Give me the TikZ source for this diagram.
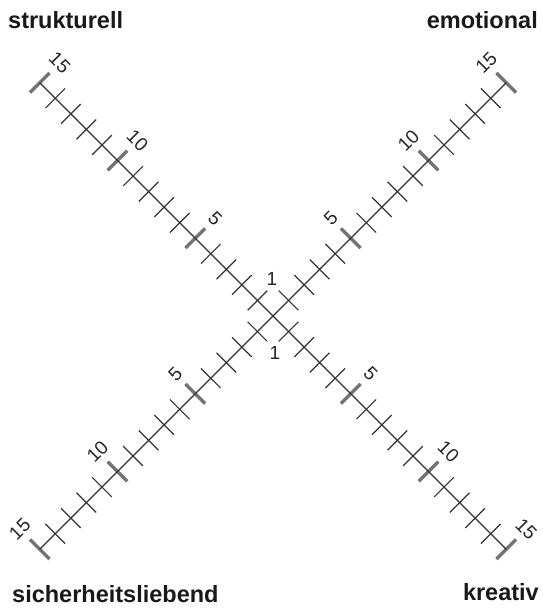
\documentclass[tikz,border=0pt]{standalone}
\usepackage{fontspec}
\setmainfont{Liberation Sans}
\usetikzlibrary{calc}
\begin{document}
\begin{tikzpicture}[x=1pt,y=-1pt,
  axisline/.style={line width=1.3pt, draw=black!80},
  minortick/.style={line width=1.2pt, draw=black!80},
  majortick/.style={line width=3.4pt, draw=black!55},
  title/.style={font=\fontsize{23.5}{28}\selectfont\bfseries, text=black!90, inner sep=0pt},
  num/.style={font=\fontsize{19}{22}\selectfont, inner sep=0pt, text=black!85}]
\useasboundingbox (0,0) rectangle (543,610);
\coordinate (C) at (273,316);
\def\st{15.55}
\def\hl{9.8}
% major ticks first (under the axis lines)
\foreach \name/\dx/\dy in {tl/-1/-1, tr/1/-1, bl/-1/1, br/1/1} {
  \foreach \k in {5,10,15} {
    \coordinate (\name-p\k) at ({273+\k*\st*(\dx)}, {316+\k*\st*(\dy)});
    \draw[majortick] ($(\name-p\k)+({\hl*(\dx)},{-\hl*(\dy)})$) -- ($(\name-p\k)+({-\hl*(\dx)},{\hl*(\dy)})$);
  }
}
% axis lines
\coordinate (tl-end) at ({273-15*\st}, {316-15*\st});
\coordinate (br-end) at ({273+15*\st}, {316+15*\st});
\coordinate (tr-end) at ({273+15*\st}, {316-15*\st});
\coordinate (bl-end) at ({273-15*\st}, {316+15*\st});
\draw[axisline] (tl-end) -- (C) -- (br-end);
\draw[axisline] (tr-end) -- (C) -- (bl-end);
% minor ticks and labels
\foreach \name/\dx/\dy/\rot in {tl/-1/-1/-45, tr/1/-1/45, bl/-1/1/45, br/1/1/-45} {
  \foreach \k in {1,2,3,4,6,7,8,9,11,12,13,14} {
    \coordinate (\name-p\k) at ({273+\k*\st*(\dx)}, {316+\k*\st*(\dy)});
    \draw[minortick] ($(\name-p\k)+({\hl*(\dx)},{-\hl*(\dy)})$) -- ($(\name-p\k)+({-\hl*(\dx)},{\hl*(\dy)})$);
  }
  \foreach \k in {5,10,15} {
    \node[num, rotate=\rot] (\name-n\k) at ($(\name-p\k)+({20*(\dx)*(\dy)},-20)$) {\k};
  }
}
\node[num] (one-top) at (272,279) {1};
\node[num] (one-bot) at (275,353) {1};
% titles
\node[title, anchor=base west] (strukturell) at (8,29) {strukturell};
\node[title, anchor=base east] (emotional) at (538,29) {emotional};
\node[title, anchor=base west] (sicherheit) at (12,602) {sicherheitsliebend};
\node[title, anchor=base east] (kreativ) at (539,600) {kreativ};
\end{tikzpicture}
\end{document}
